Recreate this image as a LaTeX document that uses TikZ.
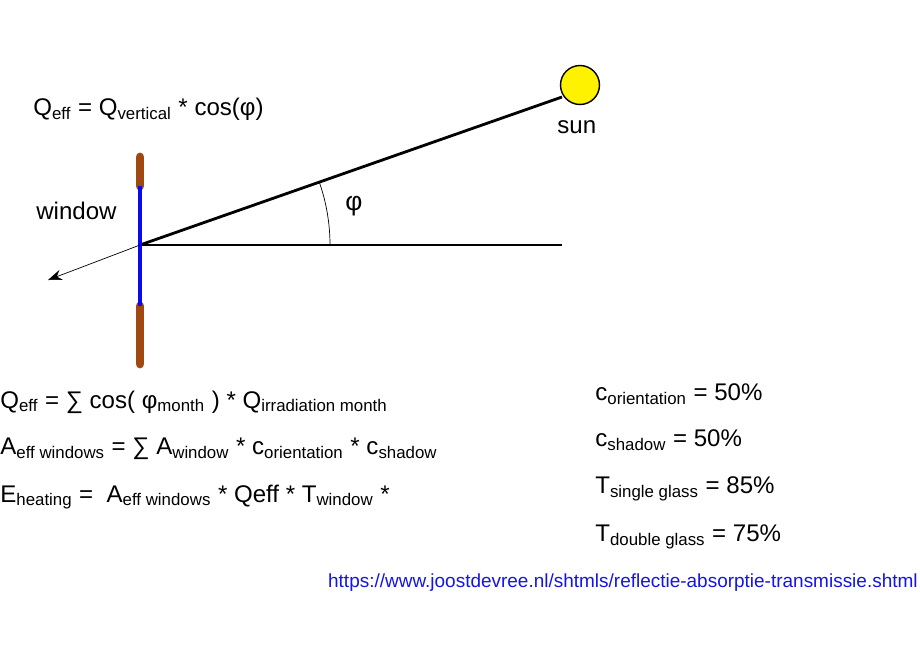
\documentclass[tikz,border=0pt]{standalone}
\usepackage{fontspec}
\setmainfont{Liberation Sans}
\usetikzlibrary{arrows.meta}
\definecolor{frame}{RGB}{160,72,16}
\definecolor{glass}{RGB}{10,10,240}
\definecolor{link}{RGB}{20,20,230}
\begin{document}
\begin{tikzpicture}[x=0.02cm,y=-0.02cm,
    txt/.style={anchor=west,inner sep=0pt,font=\fontsize{13.7}{16}\selectfont},
    ray/.style={line width=1.6pt}]
  \useasboundingbox (0,0) rectangle (920,660);

  % sun and rays
  \node (sun) [circle,draw,thick,fill=yellow,minimum size=0.78cm,inner sep=0pt] at (580,85) {};
  \node (sunlbl) [txt] at (557,127) {sun};
  \coordinate (o) at (140,245);
  \coordinate (rayend) at (562,97);
  \coordinate (hend) at (562,245);
  \draw[ray] (o) -- (rayend);
  \draw[ray] (o) -- (hend);
  \draw[thin] (330,245) arc[start angle=0,end angle=19.3,radius=3.8cm];
  \node (phi) [txt,font=\fontsize{15}{17}\selectfont] at (345,206) {φ};

  % window
  \draw[frame,line width=5pt,line cap=round] (140,157) -- (140,186);
  \draw[frame,line width=5pt,line cap=round] (140,306) -- (140,364);
  \draw[glass,line width=2pt] (140,186) -- (140,306);
  \coordinate (normal) at (48,280);
  \draw[-{Stealth[length=8pt]}] (o) -- (normal);
  \node (winlbl) [txt] at (36,211) {window};

  % formulas
  \node (qtop) [txt] at (33,109) {Q\textsubscript{eff} = Q\textsubscript{vertical} * cos(φ)};
  \node (f1) [txt] at (0,402) {Q\textsubscript{eff} = ∑ cos( φ\textsubscript{month} ) * Q\textsubscript{irradiation month}};
  \node (f2) [txt] at (0,449) {A\textsubscript{eff windows} = ∑ A\textsubscript{window} * c\textsubscript{orientation} * c\textsubscript{shadow}};
  \node (f3) [txt] at (0,497) {E\textsubscript{heating} =~~A\textsubscript{eff windows} * Qeff * T\textsubscript{window} *};
  \node (c1) [txt] at (595,394) {c\textsubscript{orientation} = 50\%};
  \node (c2) [txt] at (595,440) {c\textsubscript{shadow} = 50\%};
  \node (c3) [txt] at (595,489) {T\textsubscript{single glass} = 85\%};
  \node (c4) [txt] at (595,537) {T\textsubscript{double glass} = 75\%};
  \node (url) [anchor=east,inner sep=0pt,text=link,font=\fontsize{10.8}{13}\selectfont] at (918,583)
    {https://www.joostdevree.nl/shtmls/reflectie-absorptie-transmissie.shtml};
\end{tikzpicture}
\end{document}
